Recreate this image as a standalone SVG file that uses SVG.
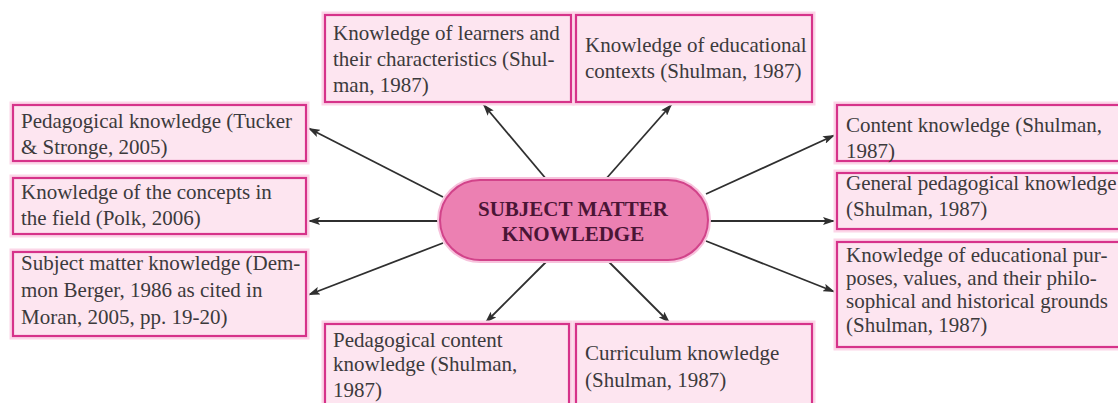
<svg xmlns="http://www.w3.org/2000/svg" width="1118" height="403" viewBox="0 0 1118 403">
<style>
.box{fill:#fde5f0;stroke:#d6338a;stroke-width:2.2}
.halo{fill:none;stroke:#fcd6e8;stroke-width:7}
.t{font-family:"Liberation Serif","Times New Roman",serif;font-size:21px;fill:#3c3a3c}
.c{font-family:"Liberation Serif","Times New Roman",serif;font-size:21px;font-weight:bold;fill:#4a1535;text-anchor:middle}
.arr{stroke:#2f2f2f;stroke-width:1.8;fill:none;marker-end:url(#ah)}
</style>
<defs>
<marker id="ah" viewBox="0 0 12 8" refX="12" refY="4" markerWidth="12" markerHeight="8" markerUnits="userSpaceOnUse" orient="auto">
<path d="M0,0 L12,4 L0,8 L2.5,4 Z" fill="#2f2f2f"/>
</marker>
</defs>
<rect width="1118" height="403" fill="#ffffff"/>

<g id="connectors">
<line class="arr" x1="443" y1="197" x2="308" y2="128"/>
<line class="arr" x1="440" y1="221" x2="308" y2="221"/>
<line class="arr" x1="443" y1="243" x2="308" y2="295"/>
<line class="arr" x1="547" y1="180" x2="483" y2="104"/>
<line class="arr" x1="605" y1="180" x2="672" y2="104"/>
<line class="arr" x1="548" y1="260" x2="485" y2="323"/>
<line class="arr" x1="607" y1="260" x2="670" y2="323"/>
<line class="arr" x1="706" y1="194" x2="835" y2="135"/>
<line class="arr" x1="708" y1="221" x2="835" y2="221"/>
<line class="arr" x1="706" y1="241" x2="835" y2="292"/>
</g>

<g id="center">
<rect x="440" y="180" width="268" height="80" rx="40" ry="40" fill="none" stroke="#f7c2dc" stroke-width="6"/>
<rect x="440" y="180" width="268" height="80" rx="40" ry="40" fill="#ec80b2" stroke="#d2438a" stroke-width="2"/>
<text class="c" x="573" y="216">SUBJECT MATTER</text>
<text class="c" x="573" y="241">KNOWLEDGE</text>
</g>

<g id="n-ped-tucker">
<rect class="halo" x="13" y="105" width="293" height="56"/>
<rect class="box" x="13" y="105" width="293" height="56"/>
<text class="t" x="21" y="128">Pedagogical knowledge (Tucker</text>
<text class="t" x="21" y="154">&amp; Stronge, 2005)</text>
</g>

<g id="n-concepts">
<rect class="halo" x="13" y="178" width="293" height="56"/>
<rect class="box" x="13" y="178" width="293" height="56"/>
<text class="t" x="21" y="199">Knowledge of the concepts in</text>
<text class="t" x="21" y="225">the field (Polk, 2006)</text>
</g>

<g id="n-subject-berger">
<rect class="halo" x="13" y="252" width="293" height="84"/>
<rect class="box" x="13" y="252" width="293" height="84"/>
<text class="t" x="21" y="270">Subject matter knowledge (Dem-</text>
<text class="t" x="21" y="297">mon Berger, 1986 as cited in</text>
<text class="t" x="21" y="324">Moran, 2005, pp. 19-20)</text>
</g>

<g id="n-learners">
<rect class="halo" x="325" y="15" width="246" height="87"/>
<rect class="box" x="325" y="15" width="246" height="87"/>
<text class="t" x="333" y="40">Knowledge of learners and</text>
<text class="t" x="333" y="66">their characteristics (Shul-</text>
<text class="t" x="333" y="92">man, 1987)</text>
</g>

<g id="n-contexts">
<rect class="halo" x="576" y="15" width="236" height="87"/>
<rect class="box" x="576" y="15" width="236" height="87"/>
<text class="t" x="585" y="52">Knowledge of educational</text>
<text class="t" x="585" y="78">contexts (Shulman, 1987)</text>
</g>

<g id="n-pck">
<rect class="halo" x="325" y="324" width="244" height="90"/>
<rect class="box" x="325" y="324" width="244" height="90"/>
<text class="t" x="333" y="347">Pedagogical content</text>
<text class="t" x="333" y="371">knowledge (Shulman,</text>
<text class="t" x="333" y="397">1987)</text>
</g>

<g id="n-curriculum">
<rect class="halo" x="576" y="324" width="236" height="90"/>
<rect class="box" x="576" y="324" width="236" height="90"/>
<text class="t" x="585" y="360">Curriculum knowledge</text>
<text class="t" x="585" y="387">(Shulman, 1987)</text>
</g>

<g id="n-content">
<rect class="halo" x="837" y="105" width="290" height="56"/>
<rect class="box" x="837" y="105" width="290" height="56"/>
<text class="t" x="846" y="132">Content knowledge (Shulman,</text>
<text class="t" x="846" y="158">1987)</text>
</g>

<g id="n-general">
<rect class="halo" x="837" y="173" width="290" height="56"/>
<rect class="box" x="837" y="173" width="290" height="56"/>
<text class="t" x="846" y="190">General pedagogical knowledge</text>
<text class="t" x="846" y="216">(Shulman, 1987)</text>
</g>

<g id="n-purposes">
<rect class="halo" x="837" y="242" width="290" height="105"/>
<rect class="box" x="837" y="242" width="290" height="105"/>
<text class="t" x="846" y="262">Knowledge of educational pur-</text>
<text class="t" x="846" y="285">poses, values, and their philo-</text>
<text class="t" x="846" y="308">sophical and historical grounds</text>
<text class="t" x="846" y="332">(Shulman, 1987)</text>
</g>
</svg>
